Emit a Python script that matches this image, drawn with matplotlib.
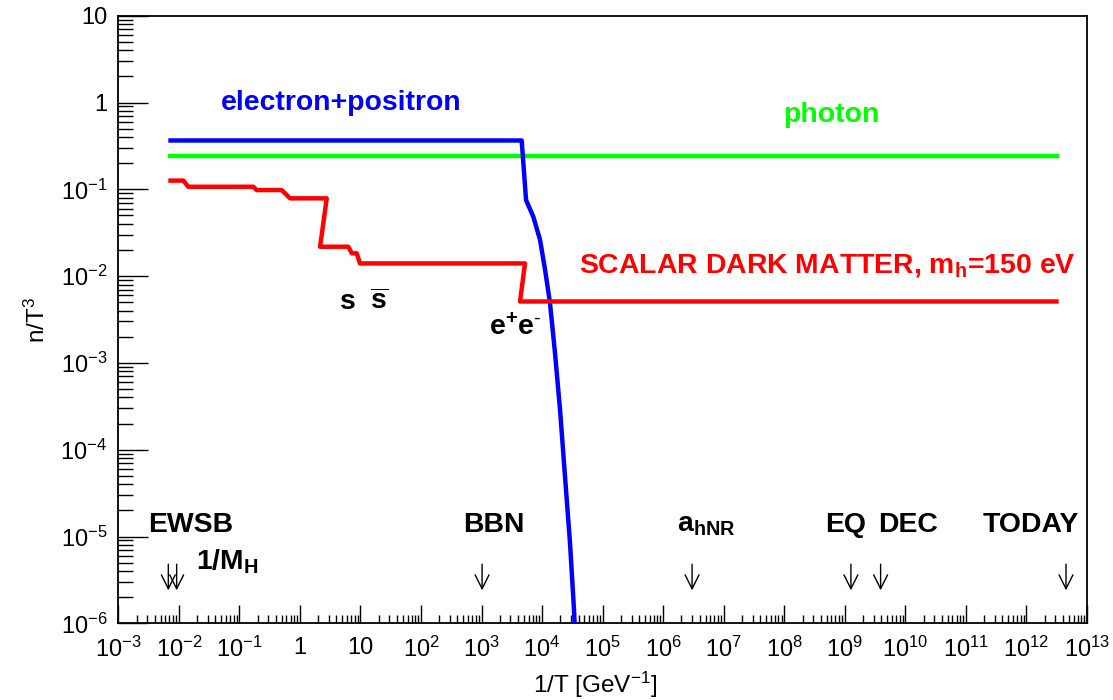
import math
import matplotlib
matplotlib.use("Agg")
import matplotlib.pyplot as plt
from matplotlib.ticker import FixedLocator, FuncFormatter, NullFormatter

plt.rcParams['font.family'] = ['Liberation Sans', 'DejaVu Sans']
plt.rcParams['mathtext.fontset'] = 'custom'
plt.rcParams['mathtext.rm'] = 'Liberation Sans'
plt.rcParams['mathtext.bf'] = 'Liberation Sans:bold'
plt.rcParams['mathtext.it'] = 'Liberation Sans:italic'

# ---- data ----
red_x = [6.7e-3, 0.0119, 0.0143, 0.170, 0.193, 0.50, 0.686, 2.77, 2.15,
         6.3, 7.2, 8.7, 9.8, 5220, 4320, 3.4e12]
red_y = [0.126, 0.126, 0.107, 0.107, 0.098, 0.098, 0.0787, 0.0787, 0.0218,
         0.0218, 0.0183, 0.0183, 0.0140, 0.0140, 0.0051, 0.0051]

blue_x = [6.7e-3, 4600, 5430, 7160, 9250, 11200, 13500, 16350, 19800,
          23900, 28900, 33700, 36000]
blue_y = [0.365, 0.365, 0.0753, 0.0483, 0.0261, 0.0118, 4.9e-3, 1.29e-3,
          2.86e-4, 4.9e-5, 8.4e-6, 1.4e-6, 5e-7]

green_x = [6.7e-3, 3.4e12]
green_y = [0.243, 0.243]

event_labels = ["EWSB", r"1/M$_{\mathbf{H}}$", "BBN", r"a$_{\mathbf{hNR}}$",
                "EQ", "DEC", "TODAY"]
event_label_x = [0.0159, 0.0625, 1600, 5.1e6, 1.05e9, 1.1e10, 1.2e12]
event_label_y = [1.13e-5, 4.2e-6, 1.13e-5, 1.13e-5, 1.13e-5, 1.13e-5, 1.13e-5]
arrow_x = [6.7e-3, 9.2e-3, 1.02e3, 3.0e6, 1.26e9, 3.9e9, 4.5e12]
arrow_top, arrow_bottom = 4.8e-6, 2.4e-6

x_decades = list(range(-3, 14))
y_decades = list(range(-6, 2))

W, H = 1113, 700
fig = plt.figure(figsize=(W / 100, H / 100), dpi=100)
ax = fig.add_axes([118.3 / W, 1 - 623.3 / H, (1087 - 118.3) / W, (623.3 - 15.7) / H])

ax.plot(green_x, green_y, color='#00ff00', lw=3.2, solid_capstyle='butt', zorder=2)
ax.plot(blue_x, blue_y, color='#0000ff', lw=3.2, solid_capstyle='butt', zorder=3)
ax.plot(red_x, red_y, color='#ff0000', lw=3.2, solid_capstyle='butt', zorder=3)

ax.set_xscale('log')
ax.set_yscale('log')
ax.set_xlim(10.0 ** x_decades[0], 10.0 ** x_decades[-1])
ax.set_ylim(10.0 ** y_decades[0], 10.0 ** y_decades[-1])


def fmt(v, pos):
    e = int(round(math.log10(v)))
    if e == 0:
        return "1"
    if e == 1:
        return "10"
    return r"$\mathregular{10^{%d}}$" % e


def minors(decs):
    return [k * 10.0 ** d for d in decs[:-1] for k in range(2, 10)]


ax.xaxis.set_major_locator(FixedLocator([10.0 ** d for d in x_decades]))
ax.xaxis.set_minor_locator(FixedLocator(minors(x_decades)))
ax.yaxis.set_major_locator(FixedLocator([10.0 ** d for d in y_decades]))
ax.yaxis.set_minor_locator(FixedLocator(minors(y_decades)))
ax.xaxis.set_major_formatter(FuncFormatter(fmt))
ax.yaxis.set_major_formatter(FuncFormatter(fmt))
ax.xaxis.set_minor_formatter(NullFormatter())
ax.yaxis.set_minor_formatter(NullFormatter())

ax.tick_params(axis='x', which='major', direction='in', length=13, width=1.0,
               labelsize=17, pad=10, top=False)
ax.tick_params(axis='x', which='minor', direction='in', length=5.5, width=1.0, top=False)
ax.tick_params(axis='y', which='major', direction='in', length=21.5, width=1.0,
               labelsize=17, pad=8, right=False)
ax.tick_params(axis='y', which='minor', direction='in', length=11, width=1.0, right=False)
for s in ax.spines.values():
    s.set_linewidth(1.3)

ax.set_xlabel(r"1/T [GeV$^{-1}$]", fontsize=17.5)
ax.set_ylabel(r"n/T$^{3}$", fontsize=17.5)
ax.xaxis.set_label_coords(0.492, -0.076)
ax.yaxis.set_label_coords(-0.071, 0.5)

BOLD = 20.4
# curve labels
ax.text(4.8, 1.0, "electron+positron", color='#0000ff', fontsize=BOLD,
        fontweight='bold', ha='center', va='center')
ax.text(5.9e8, 0.72, "photon", color='#00ff00', fontsize=BOLD,
        fontweight='bold', ha='center', va='center')
ax.text(5.1e8, 0.0109, r"SCALAR DARK MATTER, m$_{\mathbf{h}}$=150 eV", color='#ff0000',
        fontsize=BOLD, fontweight='bold', ha='center', va='baseline')
ax.text(11.5, 4.1e-3, r"s  $\overline{\mathbf{s}}$", color='black', fontsize=BOLD,
        fontweight='bold', ha='center', va='baseline')
ax.text(3550, 2.1e-3, r"e$^{\mathbf{+}}$e$^{\mathbf{\text{-}}}$", color='black',
        fontsize=BOLD, fontweight='bold', ha='center', va='baseline')

for lab, lx, ly in zip(event_labels, event_label_x, event_label_y):
    ax.text(lx, ly, lab, color='black', fontsize=BOLD, fontweight='bold',
            ha='center', va='baseline')
for axx in arrow_x:
    ax.annotate('', xy=(axx, arrow_bottom), xytext=(axx, arrow_top),
                arrowprops=dict(arrowstyle='->,head_length=0.5,head_width=0.25',
                                lw=1.0, color='black', mutation_scale=20,
                                shrinkA=0, shrinkB=0))

fig.savefig("out.png", dpi=100)
